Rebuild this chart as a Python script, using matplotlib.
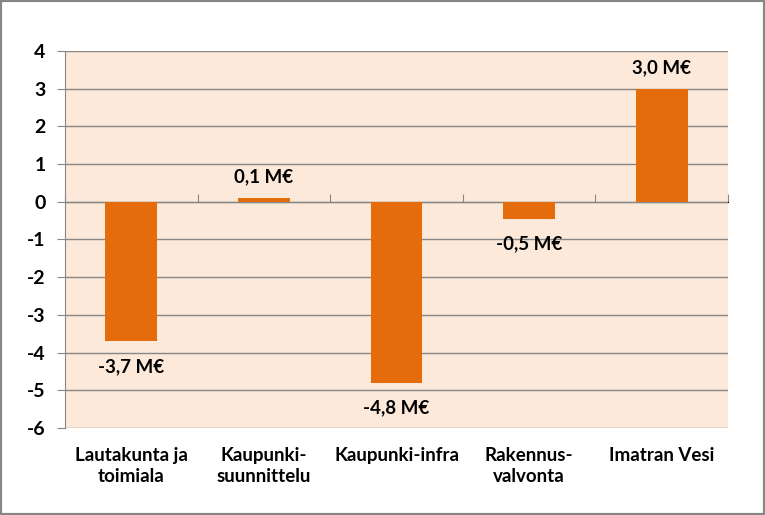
import matplotlib
matplotlib.use("Agg")
import matplotlib.pyplot as plt
from matplotlib.patches import Rectangle

categories = ["Lautakunta ja\ntoimiala", "Kaupunki-\nsuunnittelu", "Kaupunki-infra",
              "Rakennus-\nvalvonta", "Imatran Vesi"]
values = [-3.7, 0.1, -4.8, -0.45, 3.0]
value_labels = ["-3,7 M€", "0,1 M€", "-4,8 M€", "-0,5 M€", "3,0 M€"]
yticks = [4, 3, 2, 1, 0, -1, -2, -3, -4, -5, -6]

plt.rcParams['font.family'] = ['Lato', 'DejaVu Sans']

fig = plt.figure(figsize=(7.65, 5.15), dpi=100)
ax = fig.add_axes([65 / 765, 1 - 428 / 515, 663 / 765, 377 / 515])
ax.set_facecolor("#FDE9D9")

x = list(range(len(categories)))
ax.bar(x, values, width=0.39, color="#E46C0A", zorder=3)
ax.set_xlim(-0.5, len(categories) - 0.5)
ax.set_ylim(-6, 4)
ax.set_yticks(yticks)
ax.set_yticklabels([str(t) for t in yticks], fontsize=14, fontweight="bold")
ax.set_xticks(x)
ax.set_xticklabels(categories, fontsize=13.5, fontweight="bold", linespacing=1.25)
ax.grid(axis="y", color="#878787", linewidth=1, zorder=1)
ax.tick_params(axis="y", length=6, color="#878787", pad=8)
ax.tick_params(axis="x", length=0, pad=14)
for s in ["top", "right", "bottom"]:
    ax.spines[s].set_visible(False)
ax.spines["left"].set_color("#878787")

# category boundary ticks on the zero line
zero_axis = ax.secondary_xaxis(0.6)
zero_axis.set_xticks([i - 0.5 for i in range(len(categories) + 1)])
zero_axis.set_xticklabels([])
zero_axis.tick_params(length=6, color="#878787")
zero_axis.spines["bottom"].set_visible(False)

for xi, v, lab in zip(x, values, value_labels):
    if v >= 0:
        ax.annotate(lab, (xi, v), xytext=(0, 9), textcoords="offset points",
                    ha="center", va="bottom", fontsize=13.5, fontweight="bold")
    else:
        ax.annotate(lab, (xi, v), xytext=(0, -12), textcoords="offset points",
                    ha="center", va="top", fontsize=13.5, fontweight="bold")

fig.patches.append(Rectangle((0, 0), 1, 1, transform=fig.transFigure, fill=False,
                             edgecolor="#868686", linewidth=3))
fig.savefig("out.png", dpi=100)
